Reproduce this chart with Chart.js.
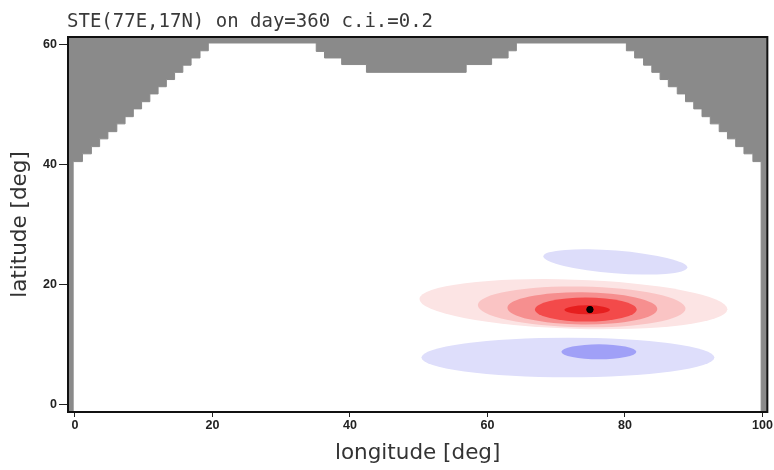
<!DOCTYPE html>
<html>
<head>
<meta charset="UTF-8">
<title>STE</title>
<script src="https://cdn.jsdelivr.net/npm/chart.js"></script>
<style>
  body { margin: 0; background: #fff; }
  #wrap { width: 774px; height: 470px; position: relative; }
</style>
</head>
<body>
<div id="wrap"><canvas id="myChart"></canvas></div>
<script>
const titleText = 'STE(77E,17N) on day=360 c.i.=0.2';
const xTicks = [0, 20, 40, 60, 80, 100];
const yTicks = [0, 20, 40, 60];

// lower edge of the grey (masked) area, stepped
const maskLon = [-1.5, -0.25, 1.1, 2.4, 3.6, 4.8, 6.1, 7.3, 8.5, 9.7, 10.9, 12.1, 13.3, 14.5, 15.7, 16.9, 18.2, 19.4,
                 35.1, 36.3, 38.8, 42.4, 56.9, 60.6, 63.0, 64.2,
                 80.2, 81.4, 82.7, 83.9, 85.1, 86.3, 87.6, 88.8, 90.0, 91.2, 92.4, 93.7, 94.9, 96.1, 97.3, 98.6, 99.8, 101.5];
const maskLat = [-5, 40.5, 41.8, 43.0, 44.3, 45.5, 46.8, 48.0, 49.3, 50.5, 51.8, 53.0, 54.2, 55.4, 56.6, 57.8, 59.0, 60.3,
                 58.9, 57.8, 56.7, 55.4, 56.7, 57.8, 59.0, 60.3,
                 59.0, 57.8, 56.6, 55.4, 54.2, 53.0, 51.8, 50.5, 49.3, 48.0, 46.8, 45.5, 44.3, 43.0, 41.8, 40.5, -5, -5];

// shaded contour bands (ellipses): centre, half widths, tilt
const bandLon   = [72.5, 73.7, 73.8, 74.3, 74.5, 78.6, 71.7, 76.2];
const bandLat   = [16.7, 16.25, 16.0, 15.8, 15.75, 23.75, 7.8, 8.75];
const bandHalfLon = [22.4, 15.1, 10.9, 7.4, 3.3, 10.5, 21.3, 5.45];
const bandHalfLat = [4.1, 3.4, 2.7, 2.0, 0.75, 1.9, 3.3, 1.25];
const bandTilt  = [1.9, 1.0, 0.5, 0, 0, 4.5, 0, 0];
const bandColor = ['rgb(252,228,228)', 'rgb(250,196,196)', 'rgb(246,143,143)', 'rgb(243,74,74)', 'rgb(230,30,30)',
                   'rgb(221,221,250)', 'rgb(222,222,251)', 'rgb(160,160,247)'];

const centreLon = [74.9];
const centreLat = [15.8];

const bandsPlugin = {
    id: 'bands',
    beforeDatasetsDraw(chart) {
        const {ctx, chartArea, scales: {x, y}} = chart;
        ctx.save();
        ctx.beginPath();
        ctx.rect(chartArea.left, chartArea.top, chartArea.width, chartArea.height);
        ctx.clip();
        bandLon.forEach((lon, i) => {
            const cx = x.getPixelForValue(lon);
            const cy = y.getPixelForValue(bandLat[i]);
            const rx = Math.abs(x.getPixelForValue(lon + bandHalfLon[i]) - cx);
            const ry = Math.abs(y.getPixelForValue(bandLat[i] + bandHalfLat[i]) - cy);
            ctx.beginPath();
            ctx.ellipse(cx, cy, rx, ry, bandTilt[i] * Math.PI / 180, 0, 2 * Math.PI);
            ctx.fillStyle = bandColor[i];
            ctx.fill();
        });
        ctx.restore();
    }
};

const framePlugin = {
    id: 'frame',
    afterDatasetsDraw(chart) {
        const {ctx, chartArea} = chart;
        ctx.save();
        ctx.strokeStyle = '#111';
        ctx.lineWidth = 2;
        ctx.strokeRect(chartArea.left, chartArea.top, chartArea.width, chartArea.height);
        ctx.restore();
    },
    afterDraw(chart) {
        const ctx = chart.ctx;
        ctx.save();
        ctx.font = '19px "DejaVu Sans Mono"';
        ctx.fillStyle = '#3a3a3a';
        ctx.textBaseline = 'alphabetic';
        ctx.textAlign = 'left';
        ctx.fillText(titleText, 67, 27);
        ctx.restore();
    }
};

const ctx = document.getElementById('myChart').getContext('2d');
const myChart = new Chart(ctx, {
    type: 'scatter',
    data: {
        datasets: [
            {
                type: 'scatter',
                data: centreLon.map((lon, i) => ({x: lon, y: centreLat[i]})),
                backgroundColor: '#000',
                borderColor: '#000',
                pointRadius: 3.2,
                order: 0
            },
            {
                type: 'line',
                data: maskLon.map((lon, i) => ({x: lon, y: maskLat[i]})),
                stepped: 'before',
                fill: 'end',
                backgroundColor: 'rgb(138,138,138)',
                borderColor: 'rgb(138,138,138)',
                borderWidth: 1,
                pointRadius: 0,
                order: 1
            }
        ]
    },
    options: {
        responsive: true,
        maintainAspectRatio: false,
        animation: false,
        layout: { padding: { top: 37, right: 6, left: 0, bottom: 0 } },
        plugins: {
            legend: { display: false },
            tooltip: { enabled: false },
            title: { display: false }
        },
        scales: {
            x: {
                type: 'linear',
                min: -1,
                max: 100.7,
                afterBuildTicks: scale => { scale.ticks = xTicks.map(v => ({value: v})); },
                afterFit: scale => { scale.height = 58; },
                grid: { drawOnChartArea: false, tickLength: 5, tickColor: '#222', tickWidth: 1 },
                border: { display: false },
                ticks: {
                    padding: 1,
                    color: '#222',
                    font: { family: '"Liberation Sans"', size: 12.5, weight: 'bold' },
                    maxRotation: 0
                },
                title: {
                    display: true,
                    text: 'longitude [deg]',
                    color: '#333',
                    font: { family: '"DejaVu Sans"', size: 21.5 },
                    padding: { top: 0, bottom: 3.5 }
                }
            },
            y: {
                type: 'linear',
                min: -1.3,
                max: 61.3,
                afterBuildTicks: scale => { scale.ticks = yTicks.map(v => ({value: v})); },
                afterFit: scale => { scale.width = 68; },
                grid: { drawOnChartArea: false, tickLength: 9, tickColor: '#222', tickWidth: 1 },
                border: { display: false },
                ticks: {
                    padding: 2,
                    color: '#222',
                    font: { family: '"Liberation Sans"', size: 12.5, weight: 'bold' }
                },
                title: {
                    display: true,
                    text: 'latitude [deg]',
                    color: '#333',
                    font: { family: '"DejaVu Sans"', size: 21.5 },
                    padding: { top: 7.6, bottom: 0 }
                }
            }
        }
    },
    plugins: [bandsPlugin, framePlugin]
});
</script>
</body>
</html>
